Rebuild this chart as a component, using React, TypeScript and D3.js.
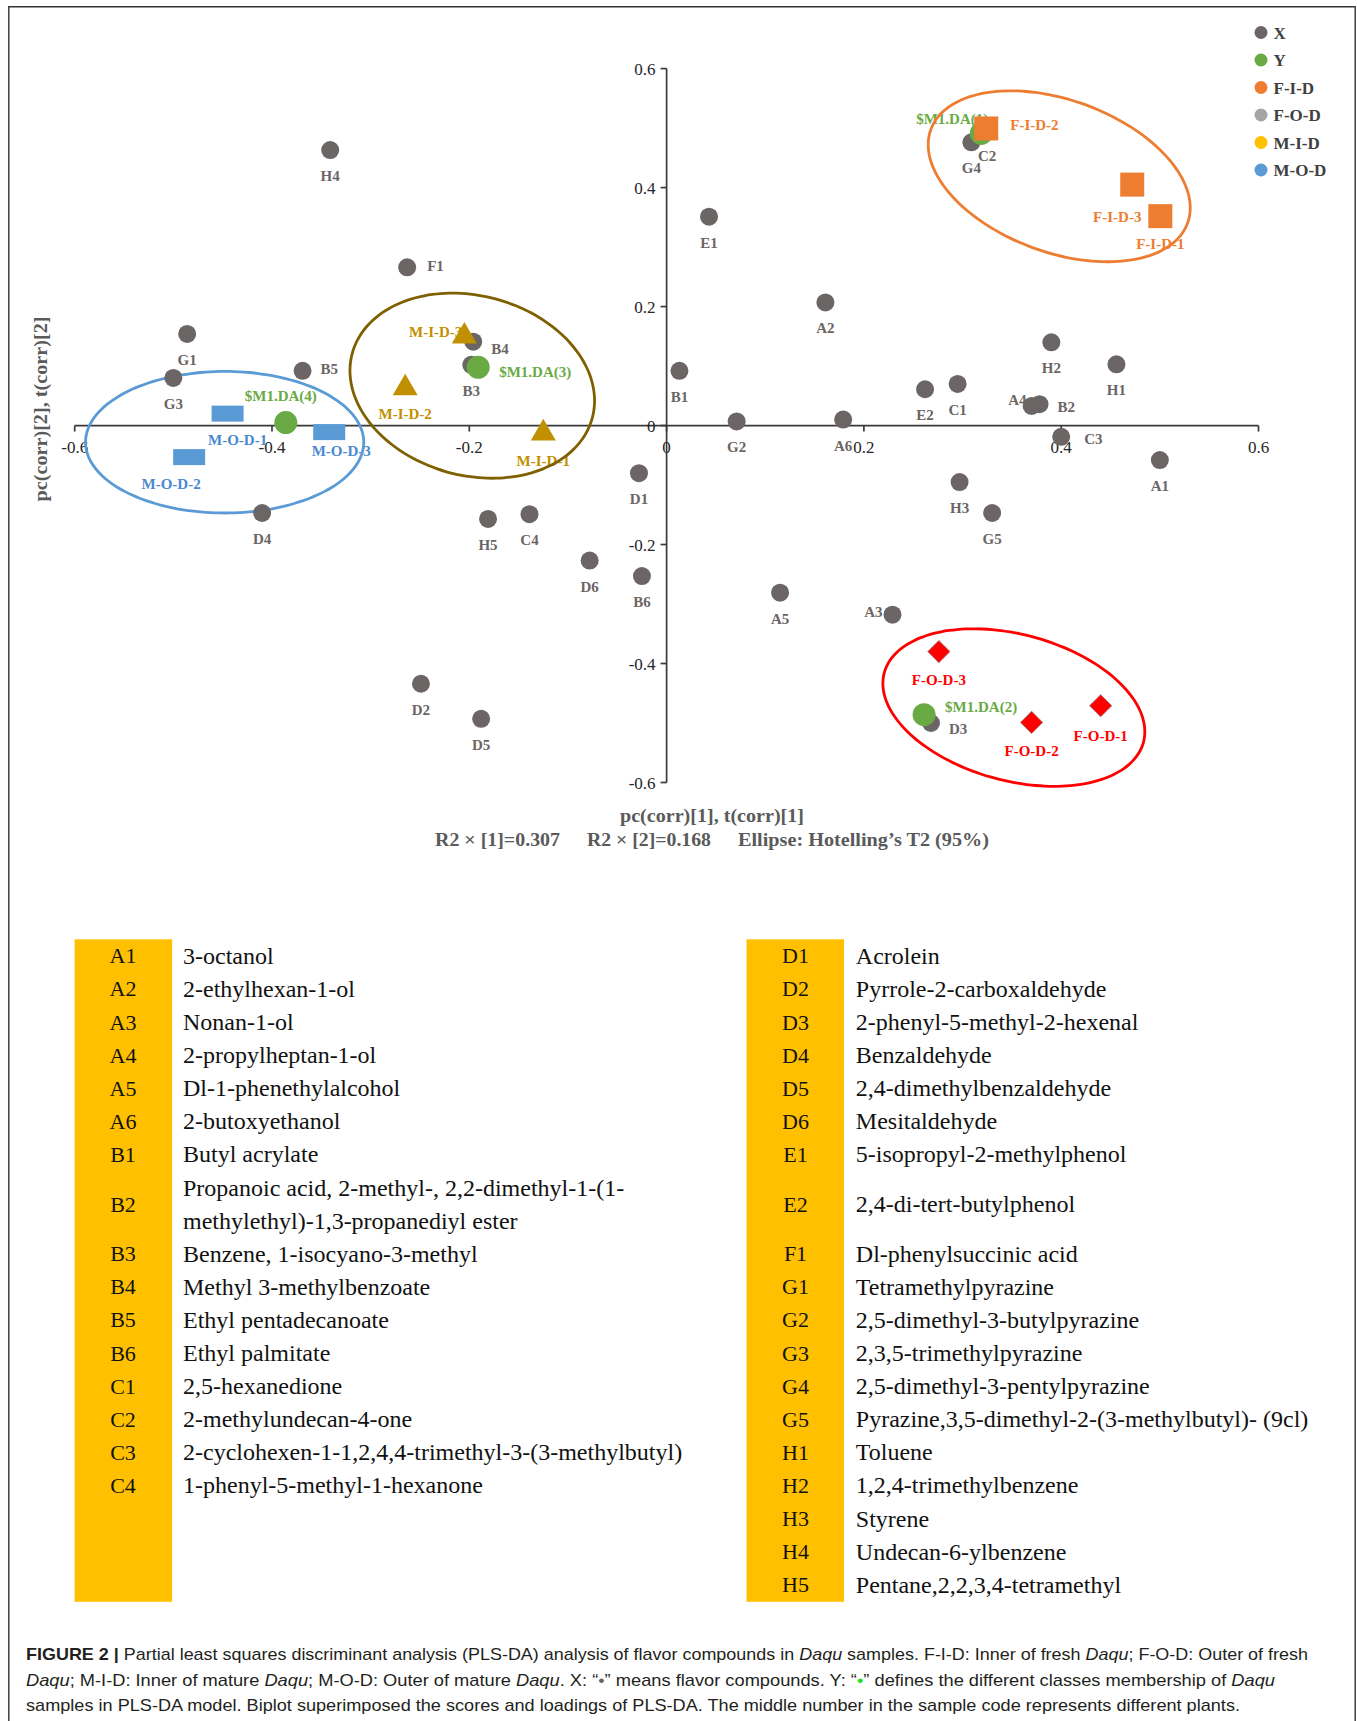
import React from 'react';
import * as d3 from 'd3';

const W = 1357;
const H = 1721;

// PLS-DA loadings of the flavour compounds (X)
const compounds = [
  { id: 'A1', pc1: 0.5, pc2: -0.058 },
  { id: 'A2', pc1: 0.161, pc2: 0.207 },
  { id: 'A3', pc1: 0.229, pc2: -0.318 },
  { id: 'A4', pc1: 0.37, pc2: 0.033 },
  { id: 'A5', pc1: 0.115, pc2: -0.281 },
  { id: 'A6', pc1: 0.179, pc2: 0.01 },
  { id: 'B1', pc1: 0.013, pc2: 0.092 },
  { id: 'B2', pc1: 0.378, pc2: 0.036 },
  { id: 'B3', pc1: -0.198, pc2: 0.102 },
  { id: 'B4', pc1: -0.196, pc2: 0.141 },
  { id: 'B5', pc1: -0.369, pc2: 0.092 },
  { id: 'B6', pc1: -0.025, pc2: -0.253 },
  { id: 'C1', pc1: 0.295, pc2: 0.07 },
  { id: 'C2', pc1: 0.325, pc2: 0.497 },
  { id: 'C3', pc1: 0.4, pc2: -0.019 },
  { id: 'C4', pc1: -0.139, pc2: -0.149 },
  { id: 'D1', pc1: -0.028, pc2: -0.08 },
  { id: 'D2', pc1: -0.249, pc2: -0.434 },
  { id: 'D3', pc1: 0.268, pc2: -0.5 },
  { id: 'D4', pc1: -0.41, pc2: -0.147 },
  { id: 'D5', pc1: -0.188, pc2: -0.493 },
  { id: 'D6', pc1: -0.078, pc2: -0.227 },
  { id: 'E1', pc1: 0.043, pc2: 0.351 },
  { id: 'E2', pc1: 0.262, pc2: 0.061 },
  { id: 'F1', pc1: -0.263, pc2: 0.266 },
  { id: 'G1', pc1: -0.486, pc2: 0.154 },
  { id: 'G2', pc1: 0.071, pc2: 0.007 },
  { id: 'G3', pc1: -0.5, pc2: 0.08 },
  { id: 'G4', pc1: 0.309, pc2: 0.476 },
  { id: 'G5', pc1: 0.33, pc2: -0.147 },
  { id: 'H1', pc1: 0.456, pc2: 0.103 },
  { id: 'H2', pc1: 0.39, pc2: 0.14 },
  { id: 'H3', pc1: 0.297, pc2: -0.095 },
  { id: 'H4', pc1: -0.341, pc2: 0.463 },
  { id: 'H5', pc1: -0.181, pc2: -0.157 },
];

// Class membership (Y)
const classes = [
  { id: '$M1.DA(1)', pc1: 0.319, pc2: 0.491 },
  { id: '$M1.DA(2)', pc1: 0.261, pc2: -0.486 },
  { id: '$M1.DA(3)', pc1: -0.191, pc2: 0.098 },
  { id: '$M1.DA(4)', pc1: -0.386, pc2: 0.005 },
];

// Sample scores
const freshInner = [
  { id: 'F-I-D-1', pc1: 0.5005, pc2: 0.352 },
  { id: 'F-I-D-2', pc1: 0.324, pc2: 0.4994 },
  { id: 'F-I-D-3', pc1: 0.472, pc2: 0.405 },
];
const freshOuter = [
  { id: 'F-O-D-1', pc1: 0.44, pc2: -0.471 },
  { id: 'F-O-D-2', pc1: 0.37, pc2: -0.499 },
  { id: 'F-O-D-3', pc1: 0.276, pc2: -0.38 },
];
const matureInner = [
  { id: 'M-I-D-1', pc1: -0.125, pc2: -0.013 },
  { id: 'M-I-D-2', pc1: -0.265, pc2: 0.063 },
  { id: 'M-I-D-3', pc1: -0.205, pc2: 0.15 },
];
const matureOuter = [
  { id: 'M-O-D-1', pc1: -0.445, pc2: 0.02 },
  { id: 'M-O-D-2', pc1: -0.484, pc2: -0.053 },
  { id: 'M-O-D-3', pc1: -0.342, pc2: -0.011 },
];

// Hotelling's T2 (95%) ellipses: centre, semi-axes (data units), tilt (deg)
const ellipses = [
  { group: 'M-O-D', cx: -0.448, cy: -0.028, rx: 0.141, ry: 0.119, tilt: 0 },
  { group: 'M-I-D', cx: -0.197, cy: 0.067, rx: 0.126, ry: 0.151, tilt: 15 },
  { group: 'F-I-D', cx: 0.398, cy: 0.419, rx: 0.1385, ry: 0.128, tilt: 20 },
  { group: 'F-O-D', cx: 0.352, cy: -0.474, rx: 0.136, ry: 0.123, tilt: 15 },
];

const xTicks = [-0.6, -0.4, -0.2, 0, 0.2, 0.4, 0.6];
const yTicks = [-0.6, -0.4, -0.2, 0, 0.2, 0.4, 0.6];

const legendItems = ['X', 'Y', 'F-I-D', 'F-O-D', 'M-I-D', 'M-O-D'];
const legendColors = ['#6b6565', '#6aaa45', '#ed7d31', '#a5a5a5', '#ffc000', '#5b9bd5'];

const ellipseColors: Record<string, string> = {
  'M-O-D': '#5b9bd5',
  'M-I-D': '#7f6000',
  'F-I-D': '#ed7d31',
  'F-O-D': '#ff0000',
};

const leftTable: [string, string[]][] = [
  ['A1', ['3-octanol']],
  ['A2', ['2-ethylhexan-1-ol']],
  ['A3', ['Nonan-1-ol']],
  ['A4', ['2-propylheptan-1-ol']],
  ['A5', ['Dl-1-phenethylalcohol']],
  ['A6', ['2-butoxyethanol']],
  ['B1', ['Butyl acrylate']],
  ['B2', ['Propanoic acid, 2-methyl-, 2,2-dimethyl-1-(1-', 'methylethyl)-1,3-propanediyl ester']],
  ['B3', ['Benzene, 1-isocyano-3-methyl']],
  ['B4', ['Methyl 3-methylbenzoate']],
  ['B5', ['Ethyl pentadecanoate']],
  ['B6', ['Ethyl palmitate']],
  ['C1', ['2,5-hexanedione']],
  ['C2', ['2-methylundecan-4-one']],
  ['C3', ['2-cyclohexen-1-1,2,4,4-trimethyl-3-(3-methylbutyl)']],
  ['C4', ['1-phenyl-5-methyl-1-hexanone']],
];

const rightTable: [string, string[]][] = [
  ['D1', ['Acrolein']],
  ['D2', ['Pyrrole-2-carboxaldehyde']],
  ['D3', ['2-phenyl-5-methyl-2-hexenal']],
  ['D4', ['Benzaldehyde']],
  ['D5', ['2,4-dimethylbenzaldehyde']],
  ['D6', ['Mesitaldehyde']],
  ['E1', ['5-isopropyl-2-methylphenol']],
  ['E2', ['2,4-di-tert-butylphenol']],
  ['F1', ['Dl-phenylsuccinic acid']],
  ['G1', ['Tetramethylpyrazine']],
  ['G2', ['2,5-dimethyl-3-butylpyrazine']],
  ['G3', ['2,3,5-trimethylpyrazine']],
  ['G4', ['2,5-dimethyl-3-pentylpyrazine']],
  ['G5', ['Pyrazine,3,5-dimethyl-2-(3-methylbutyl)- (9cl)']],
  ['H1', ['Toluene']],
  ['H2', ['1,2,4-trimethylbenzene']],
  ['H3', ['Styrene']],
  ['H4', ['Undecan-6-ylbenzene']],
  ['H5', ['Pentane,2,2,3,4-tetramethyl']],
];

// label placement around markers: [dx, dy, anchor]
type Anchor = 'start' | 'middle' | 'end';
const labelPlacement: Record<string, [number, number, Anchor]> = {
  F1: [20, 4, 'start'],
  B5: [18, 3, 'start'],
  B4: [18, 12, 'start'],
  A4: [-5, -1, 'end'],
  B2: [18, 8, 'start'],
  C3: [23, 7, 'start'],
  A3: [-10, 2, 'end'],
  D3: [18, 11, 'start'],
  '$M1.DA(1)': [7, -9, 'end'],
  '$M1.DA(2)': [21, -3, 'start'],
  '$M1.DA(3)': [21, 10, 'start'],
  '$M1.DA(4)': [-5, -22, 'middle'],
  'F-I-D-1': [0, 33, 'middle'],
  'F-I-D-2': [24, 2, 'start'],
  'F-I-D-3': [-15, 37, 'middle'],
  'F-O-D-1': [0, 35, 'middle'],
  'F-O-D-2': [0, 34, 'middle'],
  'F-O-D-3': [0, 33, 'middle'],
  'M-I-D-1': [0, 33, 'middle'],
  'M-I-D-2': [0, 31, 'middle'],
  'M-I-D-3': [-2, 1, 'end'],
  'M-O-D-1': [10, 31, 'middle'],
  'M-O-D-2': [-18, 32, 'middle'],
  'M-O-D-3': [12, 24, 'middle'],
};
const defaultPlacement: [number, number, Anchor] = [0, 31, 'middle'];

const SERIF = '"Liberation Serif", "Times New Roman", serif';
const SANS = '"Liberation Sans", Arial, sans-serif';

const x = d3.scaleLinear().domain([-0.6, 0.6]).range([74.7, 1258.5]);
const y = d3.scaleLinear().domain([-0.6, 0.6]).range([782.5, 68.6]);

function ellipsePath(e: { cx: number; cy: number; rx: number; ry: number; tilt: number }) {
  const cx = x(e.cx);
  const cy = y(e.cy);
  const a = x(e.cx + e.rx) - cx;
  const b = cy - y(e.cy + e.ry);
  const th = (e.tilt * Math.PI) / 180;
  const pts: [number, number][] = d3.range(0, 360, 4).map((deg) => {
    const t = (deg * Math.PI) / 180;
    const u = a * Math.cos(t);
    const v = b * Math.sin(t);
    return [cx + u * Math.cos(th) - v * Math.sin(th), cy + u * Math.sin(th) + v * Math.cos(th)];
  });
  return d3.line().curve(d3.curveCardinalClosed)(pts) || '';
}

const triangle = d3.symbol(d3.symbolTriangle, 270)() || '';
const diamond = d3.symbol(d3.symbolSquare, 245)() || '';

function Label({ id, pc1, pc2, color }: { id: string; pc1: number; pc2: number; color: string }) {
  const [dx, dy, anchor] = labelPlacement[id] || defaultPlacement;
  return (
    <text
      x={x(pc1) + dx}
      y={y(pc2) + dy}
      textAnchor={anchor}
      fontFamily={SERIF}
      fontWeight="bold"
      fontSize={15}
      fill={color}
    >
      {id}
    </text>
  );
}

function Table({ rows, left, codeX, nameX }: { rows: [string, string[]][]; left: number; codeX: number; nameX: number }) {
  const top = 939.3;
  const pitch = 33.1;
  // each row occupies as many line slots as the longer of the two tables' rows at that index
  const spans = rows.map((r, i) => Math.max(r[1].length, leftTable[i] ? leftTable[i][1].length : 1));
  const starts = spans.map((_, i) => d3.sum(spans.slice(0, i)));
  return (
    <g>
      <rect x={left} y={top} width={97.5} height={pitch * 20 + 0.5} fill="#ffc000" />
      {rows.map((r, i) => {
        const slot = starts[i];
        const span = spans[i];
        const mid = top + (slot + span / 2) * pitch;
        const lines = r[1];
        return (
          <g key={r[0]}>
            <text x={codeX} y={mid + 7.5} textAnchor="middle" fontFamily={SERIF} fontSize={22} fill="#111">
              {r[0]}
            </text>
            {lines.map((ln, k) => (
              <text
                key={k}
                x={nameX}
                y={mid - (lines.length * pitch) / 2 + (k + 0.5) * pitch + 8}
                fontFamily={SERIF}
                fontSize={24}
                fill="#111"
              >
                {ln}
              </text>
            ))}
          </g>
        );
      })}
    </g>
  );
}

export default function App() {
  const x0 = x(0);
  const y0 = y(0);
  const axisColor = '#3a3a3a';
  const titleColor = '#5a5a5a';
  const captionColor = '#231f20';

  return (
    <svg
      width={W}
      height={H}
      viewBox={`0 0 ${W} ${H}`}
      style={{ position: 'absolute', left: 0, top: 0, background: '#fff' }}
    >
      <rect x={0} y={0} width={W} height={H} fill="#fff" />
      {/* frame */}
      <path d={`M8.8,${H + 2} V6.8 H1355.2 V${H + 2}`} fill="none" stroke="#333" strokeWidth={1.4} />

      {/* axes */}
      <g stroke={axisColor} strokeWidth={1.7} fill="none">
        <line x1={x(-0.6)} x2={x(0.6)} y1={y0} y2={y0} />
        <line x1={x0} x2={x0} y1={y(0.6)} y2={y(-0.6)} />
        {xTicks.map((t) => (
          <line key={'xt' + t} x1={x(t)} x2={x(t)} y1={y0} y2={y0 + 6} />
        ))}
        {yTicks.map((t) => (
          <line key={'yt' + t} x1={x0 - 6} x2={x0} y1={y(t)} y2={y(t)} />
        ))}
      </g>
      <g fontFamily={SERIF} fontSize={17} fill="#262626">
        {xTicks.map((t) => (
          <text key={'xl' + t} x={x(t)} y={y0 + 27} textAnchor="middle">
            {`${t}`}
          </text>
        ))}
        {yTicks.map((t) => (
          <text key={'yl' + t} x={x0 - 11} y={y(t) + 6} textAnchor="end">
            {`${t}`}
          </text>
        ))}
      </g>

      {/* axis titles */}
      <text
        transform={`translate(47,409) rotate(-90)`}
        textAnchor="middle"
        fontFamily={SERIF}
        fontWeight="bold"
        fontSize={19}
        fill={titleColor}
        textLength={185}
        lengthAdjust="spacingAndGlyphs"
      >
        pc(corr)[2], t(corr)[2]
      </text>
      <text x={620} y={822} fontFamily={SERIF} fontWeight="bold" fontSize={19} fill={titleColor} textLength={184} lengthAdjust="spacingAndGlyphs">
        pc(corr)[1], t(corr)[1]
      </text>
      <g fontFamily={SERIF} fontWeight="bold" fontSize={19} fill={titleColor}>
        <text x={435} y={846} textLength={125} lengthAdjust="spacingAndGlyphs">R2 × [1]=0.307</text>
        <text x={587} y={846} textLength={124} lengthAdjust="spacingAndGlyphs">R2 × [2]=0.168</text>
        <text x={738} y={846} textLength={251} lengthAdjust="spacingAndGlyphs">Ellipse: Hotelling’s T2 (95%)</text>
      </g>

      {/* labels (drawn beneath the markers) */}
      {compounds.map((d) => (
        <Label key={d.id} {...d} color="#6b6565" />
      ))}
      {classes.map((d) => (
        <Label key={d.id} {...d} color="#6aaa45" />
      ))}
      {freshInner.map((d) => (
        <Label key={d.id} {...d} color="#ed7d31" />
      ))}
      {freshOuter.map((d) => (
        <Label key={d.id} {...d} color="#ff0000" />
      ))}
      {matureInner.map((d) => (
        <Label key={d.id} {...d} color="#c09000" />
      ))}
      {matureOuter.map((d) => (
        <Label key={d.id} {...d} color="#4a89d0" />
      ))}

      {/* confidence ellipses */}
      {ellipses.map((e) => (
        <path key={e.group} d={ellipsePath(e)} fill="none" stroke={ellipseColors[e.group]} strokeWidth={2.8} />
      ))}

      {/* markers */}
      {compounds.map((d) => (
        <circle key={d.id} cx={x(d.pc1)} cy={y(d.pc2)} r={9} fill="#6b6565" />
      ))}
      {classes.map((d) => (
        <circle key={d.id} cx={x(d.pc1)} cy={y(d.pc2)} r={11.5} fill="#6aaa45" />
      ))}
      {freshInner.map((d) => (
        <rect key={d.id} x={x(d.pc1) - 12} y={y(d.pc2) - 12} width={24} height={24} fill="#ed7d31" />
      ))}
      {freshOuter.map((d) => (
        <path
          key={d.id}
          d={diamond}
          transform={`translate(${x(d.pc1)},${y(d.pc2)}) rotate(45)`}
          fill="#ff0000"
          stroke="#9a7070"
          strokeWidth={0.8}
        />
      ))}
      {matureInner.map((d) => (
        <path key={d.id} d={triangle} transform={`translate(${x(d.pc1)},${y(d.pc2)})`} fill="#c09000" />
      ))}
      {matureOuter.map((d) => (
        <rect key={d.id} x={x(d.pc1) - 16} y={y(d.pc2) - 8} width={32} height={16} fill="#5b9bd5" />
      ))}

      {/* legend */}
      {legendItems.map((item, i) => (
        <g key={item} transform={`translate(1261,${32.5 + i * 27.5})`}>
          <circle r={6.5} fill={legendColors[i]} />
          <text x={12.5} y={6} fontFamily={SERIF} fontWeight="bold" fontSize={17} fill="#404040">
            {item}
          </text>
        </g>
      ))}

      {/* compound tables */}
      <Table rows={leftTable} left={74.6} codeX={123} nameX={183} />
      <Table rows={rightTable} left={746.5} codeX={795.5} nameX={855.8} />

      {/* caption */}
      <g fontFamily={SANS} fontSize={17} fill={captionColor}>
        <text x={26} y={1660} textLength={1282} lengthAdjust="spacingAndGlyphs">
          <tspan fontWeight="bold">FIGURE 2 |</tspan>
          <tspan> Partial least squares discriminant analysis (PLS-DA) analysis of flavor compounds in </tspan>
          <tspan fontStyle="italic">Daqu</tspan>
          <tspan> samples. F-I-D: Inner of fresh </tspan>
          <tspan fontStyle="italic">Daqu</tspan>
          <tspan>; F-O-D: Outer of fresh</tspan>
        </text>
        <text x={26} y={1686} textLength={1249} lengthAdjust="spacingAndGlyphs">
          <tspan fontStyle="italic">Daqu</tspan>
          <tspan>; M-I-D: Inner of mature </tspan>
          <tspan fontStyle="italic">Daqu</tspan>
          <tspan>; M-O-D: Outer of mature </tspan>
          <tspan fontStyle="italic">Daqu</tspan>
          <tspan>. X: “</tspan>
          <tspan fill="#6b6565">•</tspan>
          <tspan>” means flavor compounds. Y: “</tspan>
          <tspan fill="#22dd22">•</tspan>
          <tspan>” defines the different classes membership of </tspan>
          <tspan fontStyle="italic">Daqu</tspan>
        </text>
        <text x={26} y={1711} textLength={1214} lengthAdjust="spacingAndGlyphs">
          samples in PLS-DA model. Biplot superimposed the scores and loadings of PLS-DA. The middle number in the sample code represents different plants.
        </text>
      </g>
    </svg>
  );
}
